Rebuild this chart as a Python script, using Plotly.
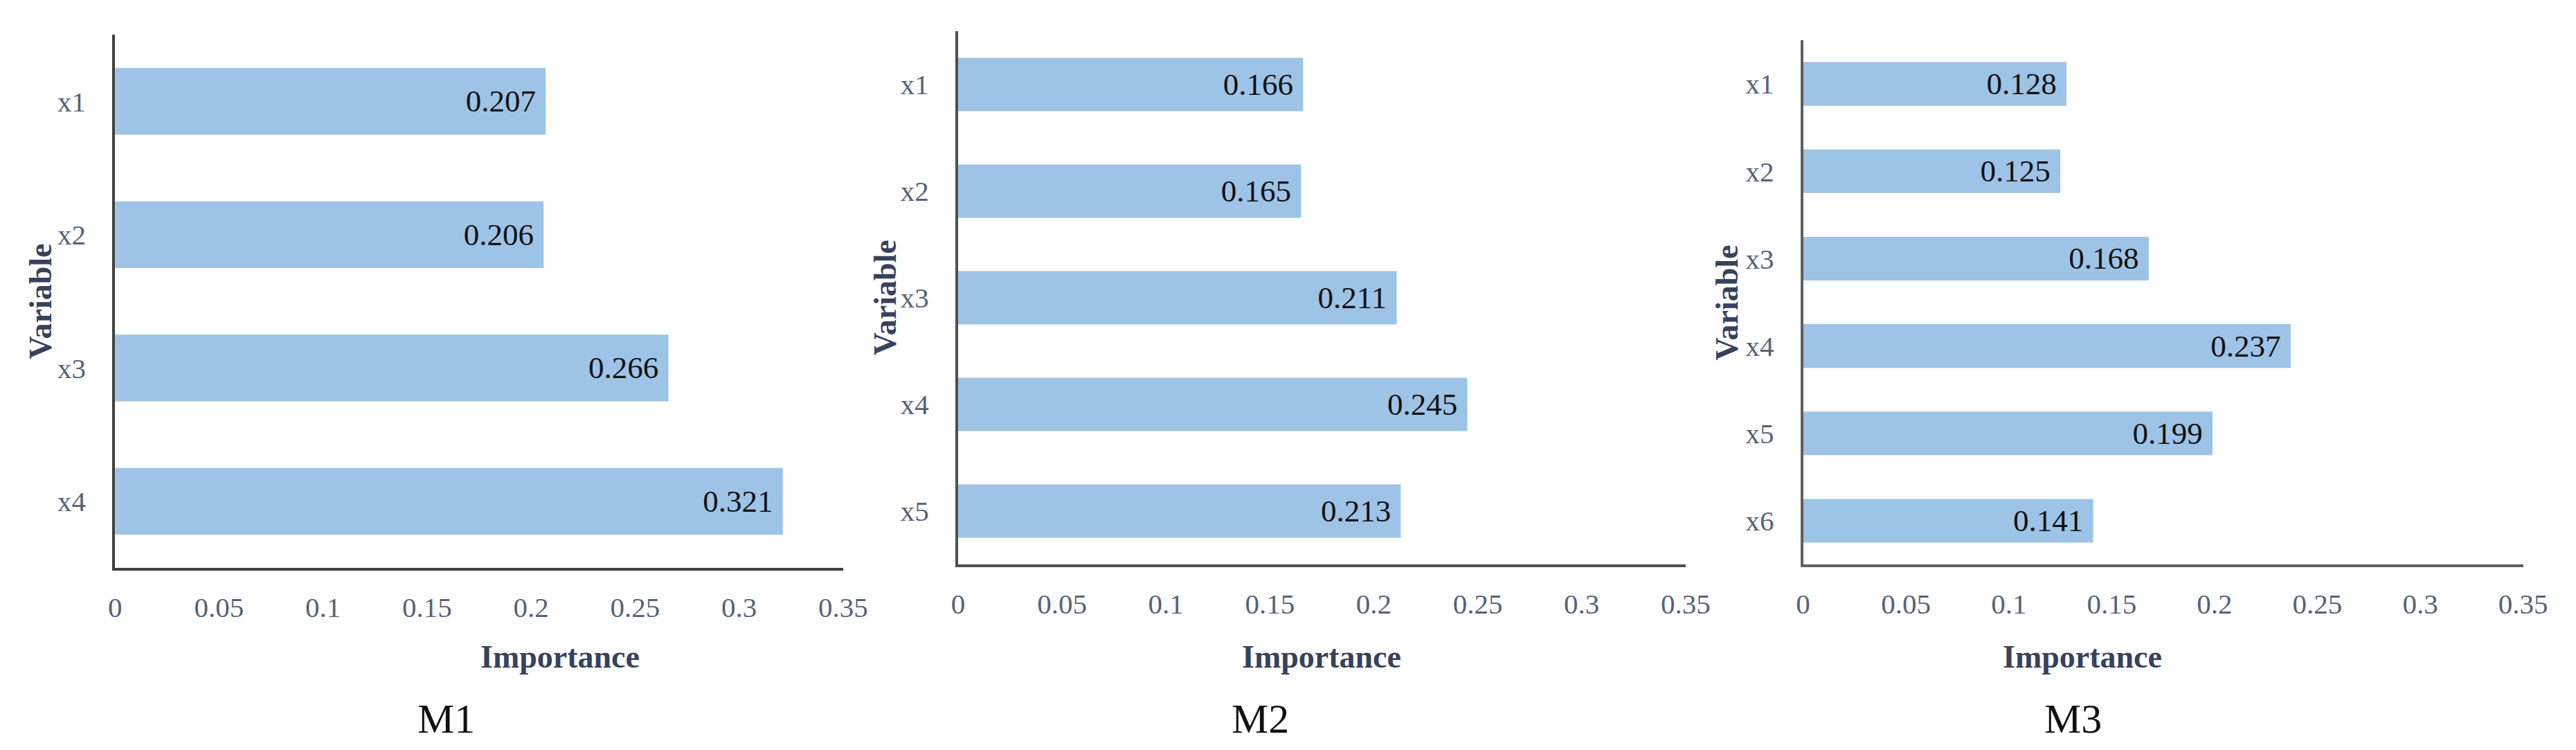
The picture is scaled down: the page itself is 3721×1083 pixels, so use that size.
import plotly.graph_objects as go

# variable importance for three models
m1_vars = ["x1", "x2", "x3", "x4"]
m1_vals = [0.207, 0.206, 0.266, 0.321]

m2_vars = ["x1", "x2", "x3", "x4", "x5"]
m2_vals = [0.166, 0.165, 0.211, 0.245, 0.213]

m3_vars = ["x1", "x2", "x3", "x4", "x5", "x6"]
m3_vals = [0.128, 0.125, 0.168, 0.237, 0.199, 0.141]

panel_names = ["M1", "M2", "M3"]
x_ticks = [0, 0.05, 0.1, 0.15, 0.2, 0.25, 0.3, 0.35]

W, H = 3721, 1083
FONT = "Liberation Serif"
BAR_COLOR = "#9DC3E6"
TICK_COLOR = "#56627A"
TITLE_COLOR = "#36425E"

# pixel boxes of each plot area: left, right, top, bottom
boxes = [(150, 1215, 42, 812), (1383, 2447, 37, 807), (2619, 3672, 50, 807)]
title_x = [590, 1825, 3058]
var_x = [40, 1276, 2508]
line_cols = ["#3f3f3f", "#4f4f4f", "#5f5f5f"]

fig = go.Figure()
panels = [(m1_vars, m1_vals), (m2_vars, m2_vals), (m3_vars, m3_vals)]

for i, (vars_, vals) in enumerate(panels):
    n = i + 1
    sfx = "" if n == 1 else str(n)
    fig.add_trace(go.Bar(
        x=vals, y=vars_, orientation="h",
        marker=dict(color=BAR_COLOR, line=dict(width=0)),
        text=["%.3f\u00a0" % v for v in vals],
        textposition="inside", insidetextanchor="end",
        textfont=dict(family=FONT, size=45, color="#111111"),
        constraintext="none",
        xaxis="x" + sfx, yaxis="y" + sfx, showlegend=False,
    ))
    l, r, t, b = boxes[i]
    fig.layout["xaxis" + sfx] = dict(
        domain=[l / W, r / W], anchor="y" + sfx, range=[0, 0.35],
        tickvals=x_ticks, ticktext=[("%g" % v) for v in x_ticks],
        showline=True, linecolor=line_cols[i], linewidth=4,
        showgrid=False, zeroline=False,
        ticks="outside", ticklen=18, tickcolor="rgba(0,0,0,0)",
        tickfont=dict(family=FONT, size=41, color=TICK_COLOR),
    )
    fig.layout["yaxis" + sfx] = dict(
        domain=[1 - b / H, 1 - t / H], anchor="x" + sfx,
        range=[len(vars_) - 0.5, -0.5], type="category",
        showline=True, linecolor=line_cols[i], linewidth=4,
        showgrid=False, zeroline=False,
        ticks="outside", ticklen=30, tickcolor="rgba(0,0,0,0)",
        tickfont=dict(family=FONT, size=41, color=TICK_COLOR),
    )
    # axis titles
    fig.add_annotation(
        x=(l + r) / 2 / W, y=1 - 940 / H, xref="paper", yref="paper",
        text="<b>Importance</b>", showarrow=False, yanchor="middle",
        font=dict(family=FONT, size=46, color=TITLE_COLOR),
    )
    fig.add_annotation(
        x=var_x[i] / W, y=1 - (t + b) / 2 / H, xref="paper", yref="paper",
        text="<b>Variable</b>", showarrow=False, textangle=-90,
        xanchor="center", yanchor="middle",
        font=dict(family=FONT, size=46, color=TITLE_COLOR),
    )
    # panel label
    fig.add_annotation(
        x=title_x[i] / W, y=1 - 1030 / H, xref="paper", yref="paper",
        text=panel_names[i], showarrow=False, yanchor="middle",
        font=dict(family=FONT, size=60, color="#111111"),
    )

fig.update_layout(
    width=W, height=H, bargap=0.5,
    margin=dict(l=0, r=0, t=0, b=0),
    paper_bgcolor="white", plot_bgcolor="white",
)

fig.write_html("out.html")
